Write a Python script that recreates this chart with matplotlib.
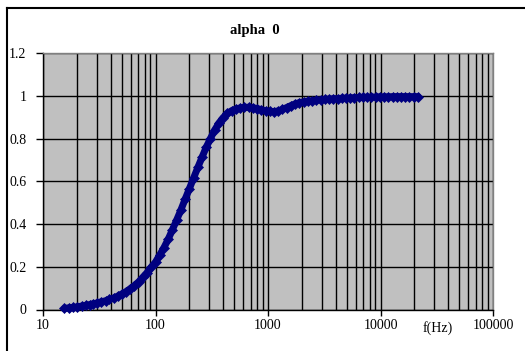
import matplotlib
matplotlib.use("Agg")
import matplotlib.pyplot as plt
from matplotlib.ticker import LogLocator, FixedLocator, NullFormatter, FixedFormatter
from matplotlib.lines import Line2D

title = "alpha  0"
xlabel = "f(Hz)"
freq = [15.5, 17, 18.5, 20, 22, 24, 26, 28, 30.5, 33, 36, 39, 42.5, 46, 50, 54.5,
        59.5, 65, 71, 77, 84, 91.5, 100, 109, 119, 130, 141, 154, 168, 183, 200,
        218, 238, 259, 283, 308, 336, 366, 400, 436, 475, 518, 565, 616, 672, 733,
        800, 872, 951, 1037, 1131, 1233, 1345, 1467, 1600, 1745, 1903, 2075, 2263,
        2468, 2691, 2935, 3200, 3490, 3806, 4150, 4526, 4936, 5382, 5870, 6400,
        6980, 7611, 8300, 9051, 9870, 10764, 11738, 12800, 13959, 15222, 16600,
        18102, 19740, 21527]
alpha = [0.005, 0.008, 0.010, 0.012, 0.016, 0.019, 0.023, 0.027, 0.031, 0.036,
         0.041, 0.047, 0.054, 0.062, 0.072, 0.083, 0.097, 0.112, 0.130, 0.150,
         0.172, 0.197, 0.222, 0.255, 0.290, 0.330, 0.372, 0.418, 0.465, 0.515,
         0.565, 0.615, 0.665, 0.712, 0.760, 0.800, 0.840, 0.872, 0.898, 0.917,
         0.930, 0.938, 0.943, 0.946, 0.946, 0.944, 0.940, 0.935, 0.930, 0.927,
         0.926, 0.929, 0.936, 0.945, 0.954, 0.962, 0.968, 0.972, 0.975, 0.977,
         0.979, 0.981, 0.983, 0.984, 0.986, 0.987, 0.988, 0.989, 0.990, 0.991,
         0.992, 0.993, 0.993, 0.994, 0.994, 0.995, 0.995, 0.995, 0.996, 0.996,
         0.996, 0.996, 0.996, 0.996, 0.996]
xticks = [10, 100, 1000, 10000, 100000]
xtick_labels = ["10", "100", "1000", "10000", "100000"]
yticks = [0, 0.2, 0.4, 0.6, 0.8, 1.0, 1.2]
ytick_labels = ["0", "0.2", "0.4", "0.6", "0.8", "1", "1.2"]

W, H = 525, 351
fig = plt.figure(figsize=(W / 100, H / 100), dpi=100)
fig.patch.set_facecolor("white")
serif = ["Liberation Serif", "DejaVu Serif"]

L, R, T, B = 43, 493, 53, 309.5
ax = fig.add_axes([L / W, 1 - B / H, (R - L) / W, (B - T) / H])
ax.set_facecolor("#C0C0C0")
ax.set_xscale("log")
ax.set_xlim(10, 100000)
ax.set_ylim(0, 1.2)

ax.xaxis.set_major_locator(FixedLocator(xticks))
ax.xaxis.set_major_formatter(FixedFormatter(xtick_labels))
ax.xaxis.set_minor_locator(LogLocator(base=10, subs=range(2, 10), numticks=20))
ax.xaxis.set_minor_formatter(NullFormatter())
ax.yaxis.set_major_locator(FixedLocator(yticks))
ax.yaxis.set_major_formatter(FixedFormatter(ytick_labels))

ax.grid(True, which="major", axis="both", color="black", linewidth=1.0)
ax.grid(True, which="minor", axis="x", color="black", linewidth=1.0)
ax.set_axisbelow(True)

ax.tick_params(axis="x", which="major", direction="out", length=4, width=1,
               color="black", pad=3)
ax.tick_params(axis="x", which="minor", length=0)
ax.tick_params(axis="y", which="major", direction="out", length=5, width=1,
               color="black", pad=7)
for lab in ax.get_xticklabels() + ax.get_yticklabels():
    lab.set_fontfamily(serif)
    lab.set_fontsize(10)
    lab.set_color("black")

for s in ["top", "right"]:
    ax.spines[s].set_color("#808080")
    ax.spines[s].set_linewidth(1)
for s in ["left", "bottom"]:
    ax.spines[s].set_color("black")
    ax.spines[s].set_linewidth(1)

ax.plot(freq, alpha, color="#000080", linewidth=5, solid_capstyle="round",
        marker="D", markersize=5.5, markeredgewidth=0.5,
        markerfacecolor="#000080", markeredgecolor="#000080", zorder=3,
        clip_on=False)

fig.text(255 / W, 1 - 30.5 / H, title, ha="center", va="center",
         fontfamily=serif, fontsize=10.5, fontweight="bold", color="black")
fig.text(438 / W, 1 - 328 / H, xlabel, ha="center", va="center",
         fontfamily=serif, fontsize=10, color="black")

# outer frame (top and left edges visible)
fig.add_artist(Line2D([7 / W, 1.0], [1 - 8 / H, 1 - 8 / H],
                      transform=fig.transFigure, color="black", linewidth=1.5))
fig.add_artist(Line2D([7 / W, 7 / W], [0.0, 1 - 8 / H],
                      transform=fig.transFigure, color="black", linewidth=1.5))

fig.savefig("out.png", dpi=100)
